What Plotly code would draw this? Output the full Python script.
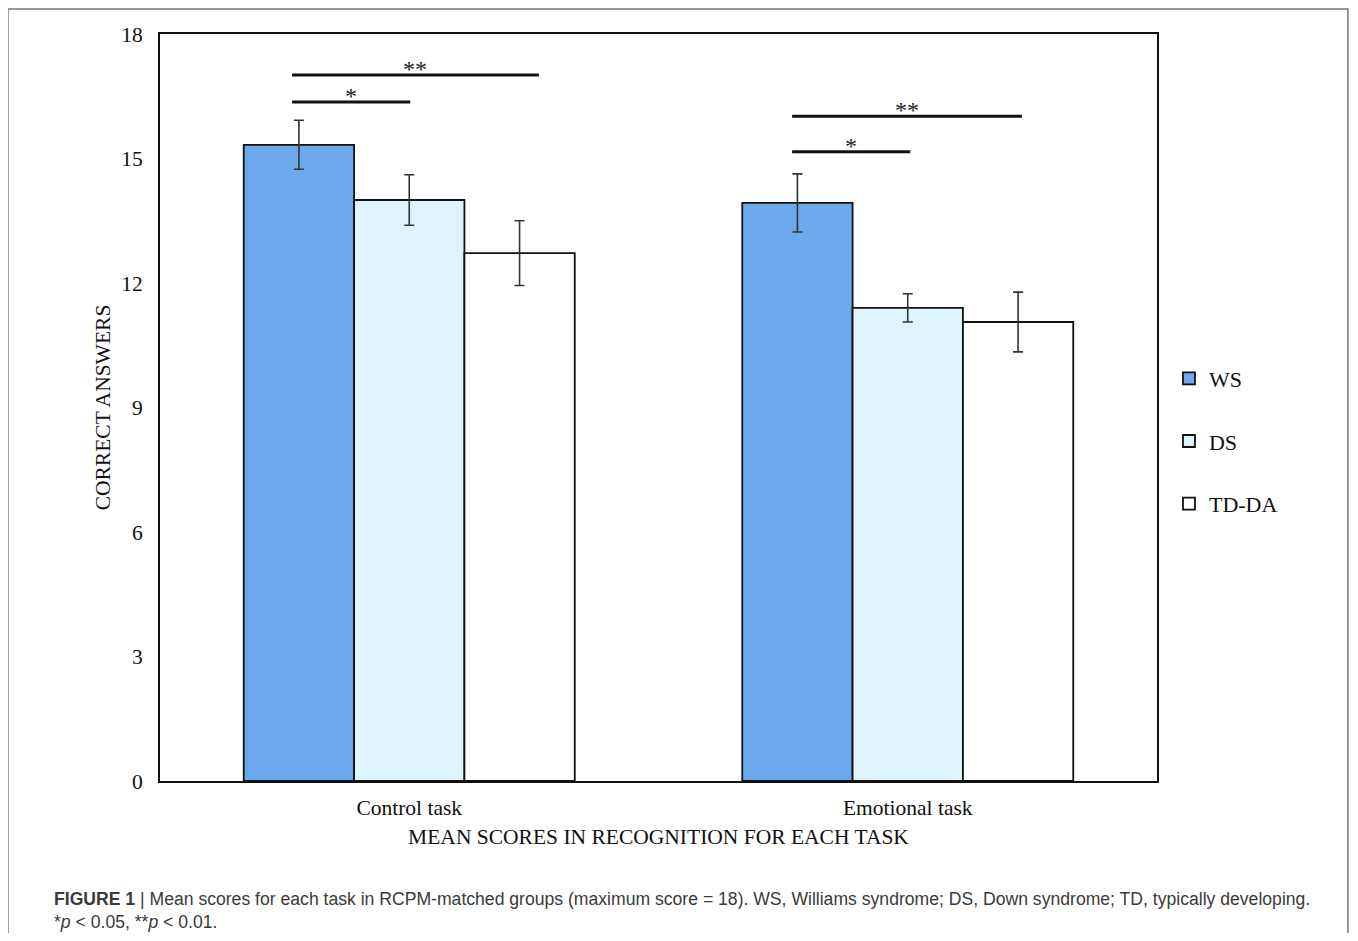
import plotly.graph_objects as go

tasks = ["Control task", "Emotional task"]
groups = ["WS", "DS", "TD-DA"]
ws_mean = [15.33, 13.93]
ds_mean = [14.00, 11.40]
td_mean = [12.72, 11.06]
ws_err = [0.59, 0.70]
ds_err = [0.61, 0.34]
td_err = [0.78, 0.72]
colors = ["#6ca9ec", "#ddf4fd", "#ffffff"]

# significance brackets: (x start, x end) in category units, level, label
sig_x0 = [-0.235, -0.235, 0.768, 0.768]
sig_x1 = [0.002, 0.260, 1.005, 1.229]
sig_y = [16.36, 17.01, 15.16, 16.02]
sig_label = ["*", "**", "*", "**"]

serif = "Liberation Serif, Times New Roman, serif"
sans = "Liberation Sans, Arial, sans-serif"

fig = go.Figure()
for name, means, errs, col in zip(groups, [ws_mean, ds_mean, td_mean],
                                  [ws_err, ds_err, td_err], colors):
    fig.add_trace(go.Bar(
        x=[0, 1], y=means, name=name, legendgroup=name,
        marker=dict(color=col, line=dict(color="#111111", width=1.8)),
        error_y=dict(type="data", array=errs, visible=True,
                     color="#333333", thickness=1.6, width=5),
    ))

for x0, x1, y, lab in zip(sig_x0, sig_x1, sig_y, sig_label):
    fig.add_shape(type="line", xref="x", yref="y", x0=x0, x1=x1, y0=y, y1=y,
                  line=dict(color="#111111", width=3))
    fig.add_annotation(x=(x0 + x1) / 2, y=y, xref="x", yref="y", text=lab,
                       showarrow=False, yanchor="bottom", yshift=-9,
                       font=dict(family=serif, size=24, color="#222222"))

# outer figure frame
fig.add_shape(type="rect", xref="paper", yref="paper",
              x0=-0.1525, x1=1.1915, y0=-0.23, y1=1.0335,
              line=dict(color="#777777", width=1.5), layer="below")

fig.add_annotation(
    xref="paper", yref="paper", x=-0.1083, y=-0.174, xanchor="left", yanchor="middle",
    align="left", showarrow=False,
    text=("<b>FIGURE 1</b> | Mean scores for each task in RCPM-matched groups (maximum score = 18). "
          "WS, Williams syndrome; DS, Down syndrome; TD, typically developing.<br>"
          "*<i>p</i> &lt; 0.05, **<i>p</i> &lt; 0.01."),
    font=dict(family=sans, size=17.6, color="#3a3a3a"),
)

fig.update_layout(
    width=1342, height=925,
    margin=dict(l=152, r=193, t=26, b=152),
    paper_bgcolor="white", plot_bgcolor="white",
    barmode="group", bargap=0.336, bargroupgap=0,
    showlegend=True,
    legend=dict(x=1.012, y=0.455, xanchor="left", yanchor="middle",
                font=dict(family=serif, size=22, color="#111111"),
                tracegroupgap=31, itemwidth=30, bgcolor="rgba(0,0,0,0)"),
    font=dict(family=serif, color="#111111"),
)
fig.update_xaxes(
    range=[-0.5, 1.5], tickmode="array", tickvals=[0, 1], ticktext=tasks,
    showline=True, linecolor="#111111", linewidth=2, mirror=True,
    showgrid=False, zeroline=False, ticks="", ticklabelstandoff=6,
    tickfont=dict(family=serif, size=21.5, color="#111111"),
    title=dict(text="MEAN SCORES IN RECOGNITION FOR EACH TASK", standoff=10,
               font=dict(family=serif, size=21.5, color="#111111")),
)
fig.update_yaxes(
    range=[0, 18], tickmode="array", tickvals=[0, 3, 6, 9, 12, 15, 18],
    showline=True, linecolor="#111111", linewidth=2, mirror=True,
    showgrid=False, zeroline=False, ticks="", ticklabelstandoff=11,
    tickfont=dict(family=serif, size=21.5, color="#111111"),
    title=dict(text="CORRECT ANSWERS", standoff=5,
               font=dict(family=serif, size=21.5, color="#111111")),
)

fig.write_html("out.html")
